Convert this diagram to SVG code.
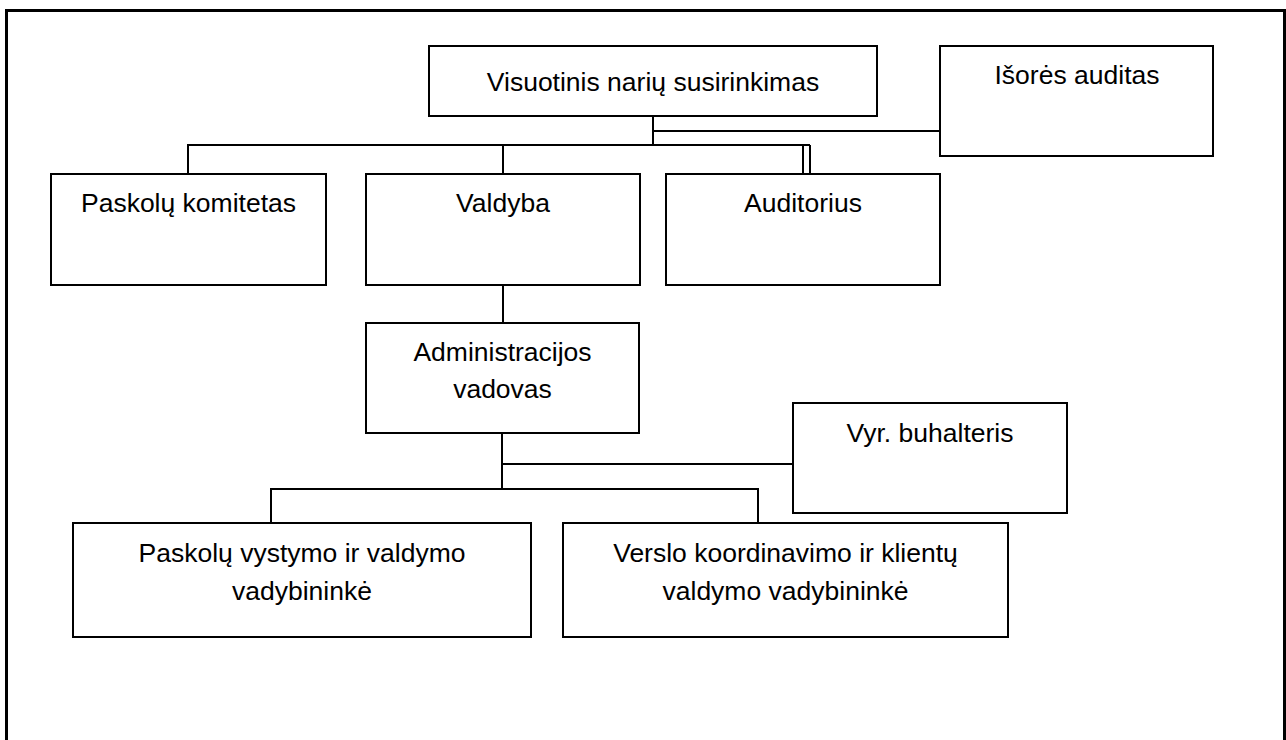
<svg xmlns="http://www.w3.org/2000/svg" width="1286" height="740" viewBox="0 0 1286 740">
<style>
.box{fill:#fff;stroke:#000;stroke-width:2}
.t{font-family:"Liberation Sans",Arial,sans-serif;font-size:26.5px;fill:#000;text-anchor:middle}
.c{fill:none;stroke:#000;stroke-width:2}
.frame{fill:none;stroke:#000;stroke-width:3}
</style>
<rect width="1286" height="740" fill="#fff"/>
<path class="frame" d="M6.5,745 V10.5 H1284.5 V745"/>
<g id="connectors">
<path class="c" d="M653,116 V145" stroke-width="2.5"/>
<path class="c" d="M653,131 H943"/>
<path class="c" d="M188,174 V145 H810"/>
<path class="c" d="M803,145 V174 M810,145 V174"/>
<path class="c" d="M503,145 V174"/>
<path class="c" d="M503,285 V323"/>
<path class="c" d="M502,433 V489"/>
<path class="c" d="M502,464 H793"/>
<path class="c" d="M271,527 V489 H758 V527"/>
</g>
<g id="n_visuotinis">
<rect class="box" x="429" y="46" width="448" height="70"/>
<text class="t" x="653" y="91">Visuotinis narių susirinkimas</text>
</g>
<g id="n_isores">
<rect class="box" x="940" y="46" width="273" height="110"/>
<text class="t" x="1077" y="84">Išorės auditas</text>
</g>
<g id="n_paskolu_komitetas">
<rect class="box" x="51" y="174" width="275" height="111"/>
<text class="t" x="188.5" y="212">Paskolų komitetas</text>
</g>
<g id="n_valdyba">
<rect class="box" x="366" y="174" width="274" height="111"/>
<text class="t" x="503" y="212">Valdyba</text>
</g>
<g id="n_auditorius">
<rect class="box" x="666" y="174" width="274" height="111"/>
<text class="t" x="803" y="212">Auditorius</text>
</g>
<g id="n_admin">
<rect class="box" x="366" y="323" width="273" height="110"/>
<text class="t" x="502.5" y="361">Administracijos</text>
<text class="t" x="502.5" y="398">vadovas</text>
</g>
<g id="n_vyr">
<rect class="box" x="793" y="403" width="274" height="110"/>
<text class="t" x="930" y="442">Vyr. buhalteris</text>
</g>
<g id="n_paskolu_vystymo">
<rect class="box" x="73" y="523" width="458" height="114"/>
<text class="t" x="302" y="562">Paskolų vystymo ir valdymo</text>
<text class="t" x="302" y="600">vadybininkė</text>
</g>
<g id="n_verslo">
<rect class="box" x="563" y="523" width="445" height="114"/>
<text class="t" x="785.5" y="562">Verslo koordinavimo ir klientų</text>
<text class="t" x="785.5" y="600">valdymo vadybininkė</text>
</g>
</svg>
